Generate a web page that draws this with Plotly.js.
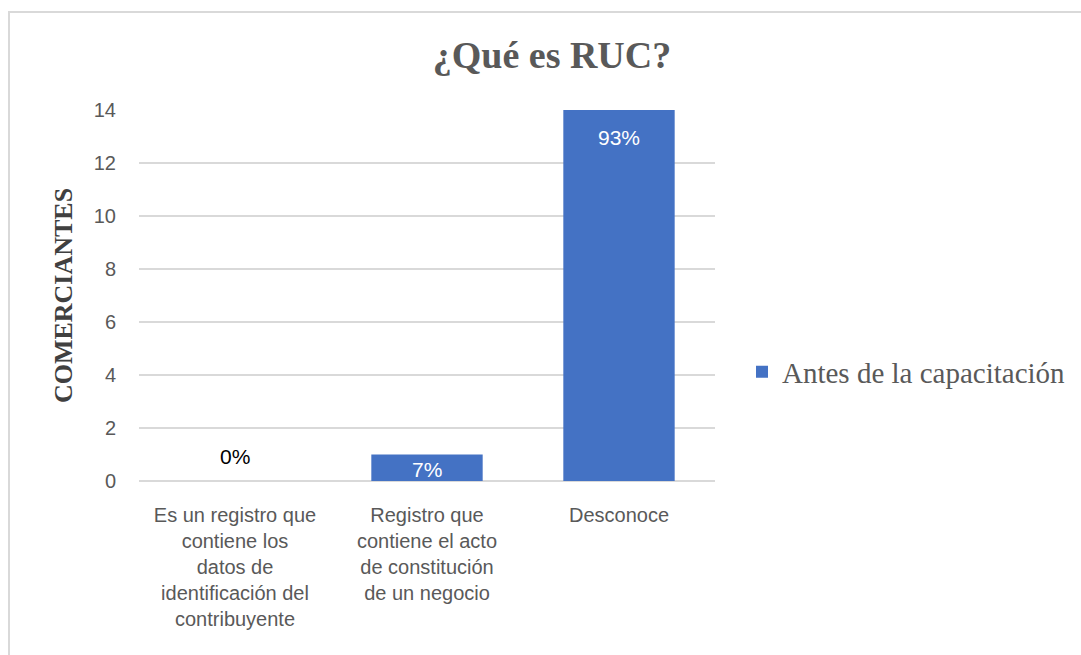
<!DOCTYPE html>
<html>
<head>
<meta charset="utf-8">
<script src="https://cdn.plot.ly/plotly-3.0.1.min.js"></script>
<style>
  html, body { margin: 0; padding: 0; background: #ffffff; }
  #wrap { position: relative; width: 1081px; height: 655px; overflow: hidden; }
  #frame { position: absolute; left: 8px; top: 11px; width: 1120px; height: 700px; border: 2px solid #d9d9d9; box-sizing: border-box; pointer-events: none; }
  #chart { position: absolute; left: 0; top: 0; width: 1081px; height: 655px; }
</style>
</head>
<body>
<div id="wrap">
  <div id="chart"></div>
  <div id="frame"></div>
</div>
<script>
const categories = [
  "Es un registro que<br>contiene los<br>datos de<br>identificación del<br>contribuyente",
  "Registro que<br>contiene el acto<br>de constitución<br>de un negocio",
  "Desconoce"
];
const values = [0, 1, 14];
const percentLabels = ["0%", "7%", "93%"];
const seriesName = "Antes de la capacitación";
const yTicks = [0, 2, 4, 6, 8, 10, 12, 14];

const plotTop = 110, plotBottom = 481, yMax = 14;
const pxPerUnit = (plotBottom - plotTop) / yMax;
const labelFont = { family: "Liberation Sans, Arial, sans-serif", size: 21 };

const trace = {
  type: "bar",
  x: categories,
  y: values,
  name: seriesName,
  marker: { color: "#4472c4" },
  showlegend: true,
  hoverinfo: "none"
};

const annotations = values.map((v, i) => {
  const inside = v > 0;
  const h = v * pxPerUnit;
  return {
    x: categories[i],
    y: v,
    xref: "x",
    yref: "y",
    text: percentLabels[i],
    showarrow: false,
    xanchor: "center",
    yanchor: "middle",
    yshift: inside ? -Math.min(27, h / 2 + 2) : 25,
    font: Object.assign({}, labelFont, { color: inside ? "#ffffff" : "#000000" })
  };
});

const layout = {
  width: 1081,
  height: 655,
  margin: { l: 139, r: 366, t: plotTop, b: 655 - plotBottom },
  paper_bgcolor: "rgba(0,0,0,0)",
  plot_bgcolor: "#ffffff",
  bargap: 0.42,
  title: {
    text: "<b>¿Qué es RUC?</b>",
    font: { family: "Liberation Serif, Times New Roman, serif", size: 38, color: "#595959" },
    xref: "container", yref: "container",
    x: 552 / 1081, xanchor: "center",
    y: 1 - 55 / 655, yanchor: "middle"
  },
  xaxis: {
    type: "category",
    showgrid: false,
    zeroline: false,
    showline: false,
    ticks: "",
    ticklabelstandoff: 20,
    tickfont: { family: "Liberation Sans, Arial, sans-serif", size: 20, color: "#595959" },
    automargin: false
  },
  yaxis: {
    range: [0, yMax],
    tickvals: yTicks,
    showgrid: true,
    gridcolor: "#d9d9d9",
    gridwidth: 1.5,
    zeroline: true,
    zerolinecolor: "#d9d9d9",
    zerolinewidth: 1.5,
    showline: false,
    ticks: "",
    ticklabelstandoff: 22,
    tickfont: { family: "Liberation Sans, Arial, sans-serif", size: 20, color: "#595959" },
    automargin: false,
    title: {
      text: "<b>COMERCIANTES</b>",
      font: { family: "Liberation Serif, Times New Roman, serif", size: 26, color: "#404040" },
      standoff: 13
    }
  },
  annotations: annotations,
  showlegend: true,
  legend: {
    xref: "container", yref: "container",
    x: 742 / 1081, xanchor: "left",
    y: 1 - 372 / 655, yanchor: "middle",
    font: { family: "Liberation Serif, Times New Roman, serif", size: 29, color: "#595959" },
    bgcolor: "rgba(0,0,0,0)"
  }
};

Plotly.newPlot("chart", [trace], layout, { staticPlot: true, displayModeBar: false });
</script>
</body>
</html>
